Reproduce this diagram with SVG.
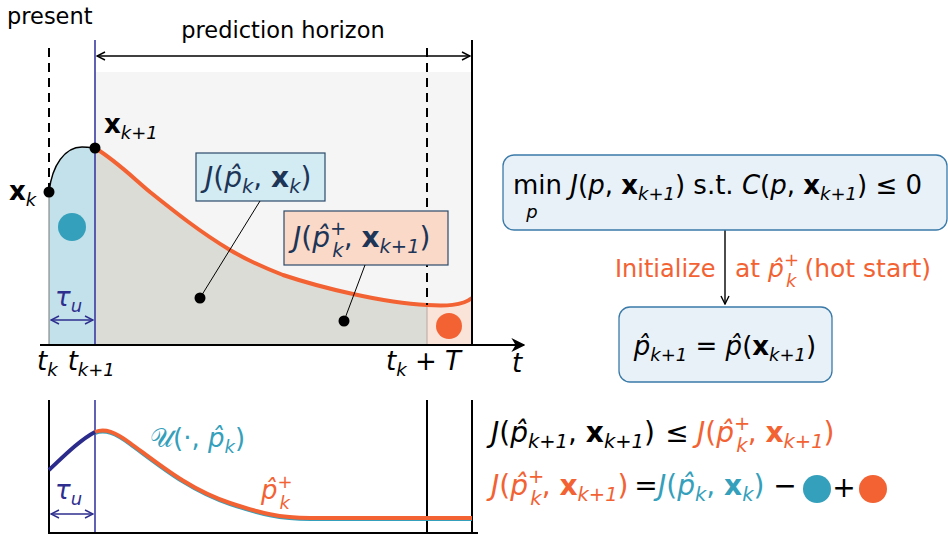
<svg xmlns="http://www.w3.org/2000/svg" width="948" height="537" viewBox="0 0 948 537">
<defs>
<style>
text{font-family:"DejaVu Sans","Liberation Sans",sans-serif;}
.t{font-size:22.5px;fill:#000}
.m{font-size:26px}
.L{font-size:28px}
.s{font-size:18px}
.S{font-size:19.5px}
.i{font-style:italic}
.b{font-weight:bold}
.nv{fill:#1d3557}
.or{fill:#f26233}
.tl{fill:#35a0bb}
.bl{fill:#2e2e8f}
.dash{stroke:#000;stroke-width:2;stroke-dasharray:9,6;fill:none}
.node rect{fill:#e9f1f8;stroke:#3a7aa8;stroke-width:1.3}
</style>
<marker id="ah" viewBox="0 0 10 10" refX="9" refY="5" markerWidth="10" markerHeight="10" markerUnits="userSpaceOnUse" orient="auto-start-reverse">
<path d="M1,1 L9,5 L1,9" fill="none" stroke="#000" stroke-width="1.4"/>
</marker>
<marker id="ahb" viewBox="0 0 10 10" refX="9" refY="5" markerWidth="10" markerHeight="10" markerUnits="userSpaceOnUse" orient="auto-start-reverse">
<path d="M1,1 L9,5 L1,9" fill="none" stroke="#2e2e8f" stroke-width="1.4"/>
</marker>
<marker id="ahs" viewBox="0 0 10 10" refX="9" refY="5" markerWidth="14" markerHeight="14" markerUnits="userSpaceOnUse" orient="auto">
<path d="M0,0 L10,5 L0,10 L3,5 Z" fill="#000"/>
</marker>
</defs>

<g id="top-plot">
<rect x="95" y="72" width="377" height="273" fill="#f5f5f5"/>
<path d="M49,345 L49,192 C52,165 65,147 82,147 C90,147 93,148 95,148 L95,345 Z" fill="#c2e1ea"/>
<path d="M49,192 L49,345" stroke="#777" stroke-width="1"/>
<path d="M95,148 C115,160 130,175 150,192 C175,212 200,232 230,250 C250,262 265,268 283,275 C310,284 330,289 353,294 C380,300 405,304 427,305 L427,345 L95,345 Z" fill="#dcdcd6"/>
<path d="M427,305 C445,306 462,306 472,298 L472,345 L427,345 Z" fill="#fae3d8" stroke="#b9a8a0" stroke-width="1"/>
<path d="M49,192 C52,165 65,147 82,147 C90,147 93,148 95,148" fill="none" stroke="#000" stroke-width="1.5"/>
<path d="M95,148 C115,160 130,175 150,192 C175,212 200,232 230,250 C250,262 265,268 283,275 C310,284 330,289 353,294 C380,300 405,304 427,305 C445,306 462,306 472,298" fill="none" stroke="#f26233" stroke-width="4"/>
<line x1="49" y1="48" x2="49" y2="192" class="dash"/>
<line x1="427" y1="48" x2="427" y2="305" class="dash"/>
<line x1="95" y1="40" x2="95" y2="345" stroke="#3a3aa0" stroke-width="1.6"/>
<line x1="472" y1="40" x2="472" y2="345" stroke="#000" stroke-width="2"/>
<line x1="97" y1="56" x2="470" y2="56" stroke="#000" stroke-width="1.4" marker-start="url(#ah)" marker-end="url(#ah)"/>
<text x="7" y="24" class="t">present</text>
<text x="283" y="38" class="t" text-anchor="middle">prediction horizon</text>
<circle cx="72" cy="227" r="14" fill="#35a0bb"/>
<circle cx="449" cy="326" r="13" fill="#f26233"/>
<line x1="51" y1="320" x2="93" y2="320" stroke="#2e2e8f" stroke-width="1.6" marker-start="url(#ahb)" marker-end="url(#ahb)"/>
<text x="55" y="306" class="m i bl">τ<tspan class="s" dy="6">u</tspan></text>
<circle cx="49" cy="192" r="5.5" fill="#000"/>
<circle cx="95" cy="148" r="5.5" fill="#000"/>
<text x="9" y="200" class="m"><tspan class="b">x</tspan><tspan class="s i" dy="6">k</tspan></text>
<text x="104" y="133" class="m"><tspan class="b">x</tspan><tspan class="s i" dy="6">k+1</tspan></text>
<line x1="40" y1="345" x2="524" y2="345" stroke="#000" stroke-width="2" marker-end="url(#ahs)"/>
<text x="512" y="372" class="m i">t</text>
<text x="37" y="370" class="m"><tspan class="i">t</tspan><tspan class="s i" dy="6">k</tspan><tspan dy="-6" dx="10" class="i">t</tspan><tspan class="s i" dy="6">k+1</tspan></text>
<text x="386" y="370" class="m"><tspan class="i">t</tspan><tspan class="s i" dy="6">k</tspan><tspan dy="-6"> + </tspan><tspan class="i">T</tspan></text>
</g>

<g id="label-J">
<rect x="196" y="153" width="129" height="48" fill="#d3ebf2" stroke="#2c4a6a" stroke-width="1.2"/>
<text x="205" y="187" class="L nv"><tspan class="i">J</tspan>(<tspan class="i">p̂</tspan><tspan class="S i" dy="6">k</tspan><tspan dy="-6">, </tspan><tspan class="b">x</tspan><tspan class="S i" dy="6">k</tspan><tspan dy="-6">)</tspan></text>
</g>
<g id="label-Jplus">
<rect x="284" y="211" width="164" height="54" fill="#fbd9c8" stroke="#2c4a6a" stroke-width="1.2"/>
<text x="293" y="247" class="L nv"><tspan class="i">J</tspan>(<tspan class="i">p̂</tspan><tspan class="S" dy="-12">+</tspan><tspan class="S i" dx="-14" dy="22">k</tspan><tspan dy="-10">, </tspan><tspan class="b">x</tspan><tspan class="S i" dy="6">k+1</tspan><tspan dy="-6">)</tspan></text>
</g>

<g id="connectors">
<line x1="260" y1="201" x2="200" y2="298" stroke="#000" stroke-width="1"/>
<circle cx="200" cy="298" r="5.5" fill="#000"/>
<line x1="365" y1="265" x2="344" y2="321" stroke="#000" stroke-width="1"/>
<circle cx="344" cy="321" r="5.5" fill="#000"/>
<line x1="725" y1="230" x2="725" y2="304" stroke="#000" stroke-width="1.4" marker-end="url(#ah)"/>
</g>

<g id="bottom-plot">
<line x1="49" y1="400" x2="49" y2="533" stroke="#000" stroke-width="2"/>
<line x1="427" y1="400" x2="427" y2="533" stroke="#000" stroke-width="2"/>
<line x1="472" y1="400" x2="472" y2="533" stroke="#000" stroke-width="2"/>
<line x1="95" y1="400" x2="95" y2="533" stroke="#3a3aa0" stroke-width="1.6"/>
<line x1="48" y1="533" x2="478" y2="533" stroke="#000" stroke-width="2"/>
<path d="M95,433.5 C105,429.5 115,433.5 130,444.5 C160,466.5 190,491.5 230,504.5 C260,514.5 280,519.5 310,519.5 L472,519.5" fill="none" stroke="#35a0bb" stroke-width="3"/>
<path d="M95,432 C105,428 115,432 130,443 C160,465 190,490 230,503 C260,513 280,518 310,518 L472,518" fill="none" stroke="#f26233" stroke-width="4"/>
<path d="M49,470 C65,455 80,440 95,432" fill="none" stroke="#2b2b8c" stroke-width="4"/>
<line x1="51" y1="514" x2="93" y2="514" stroke="#2e2e8f" stroke-width="1.6" marker-start="url(#ahb)" marker-end="url(#ahb)"/>
<text x="55" y="499" class="m i bl">τ<tspan class="s" dy="6">u</tspan></text>
<text x="150" y="447" class="m tl">𝒰(·, <tspan class="i">p̂</tspan><tspan class="s i" dy="6">k</tspan><tspan dy="-6">)</tspan></text>
<text x="261" y="499" class="m or"><tspan class="i">p̂</tspan><tspan class="s" dy="-11">+</tspan><tspan class="s i" dx="-13" dy="21">k</tspan></text>
</g>

<g id="node-min" class="node">
<rect x="503" y="155" width="444" height="75" rx="11"/>
<text x="513" y="194" class="m">min <tspan class="i">J</tspan>(<tspan class="i">p</tspan>, <tspan class="b">x</tspan><tspan class="s i" dy="6">k+1</tspan><tspan dy="-6">) s.t.  </tspan><tspan class="i">C</tspan>(<tspan class="i">p</tspan>, <tspan class="b">x</tspan><tspan class="s i" dy="6">k+1</tspan><tspan dy="-6">) ≤ 0</tspan></text>
<text x="532" y="218" class="s i" text-anchor="middle">p</text>
</g>
<text x="615" y="277" class="t or" style="font-size:24px">Initialize</text>
<text x="735" y="277" class="t or" style="font-size:25px">at <tspan class="i">p̂</tspan><tspan class="s" dy="-11">+</tspan><tspan class="s i" dx="-13" dy="21">k</tspan><tspan dy="-10"> (hot start)</tspan></text>

<g id="node-phat" class="node">
<rect x="619" y="307" width="213" height="75" rx="11"/>
<text x="725" y="355" class="m" text-anchor="middle"><tspan class="i">p̂</tspan><tspan class="s i" dy="6">k+1</tspan><tspan dy="-6"> = </tspan><tspan class="i">p̂</tspan>(<tspan class="b">x</tspan><tspan class="s i" dy="6">k+1</tspan><tspan dy="-6">)</tspan></text>
</g>

<g id="equations">
<text x="491" y="442" class="L"><tspan class="i">J</tspan>(<tspan class="i">p̂</tspan><tspan class="S i" dy="6">k+1</tspan><tspan dy="-6">, </tspan><tspan class="b">x</tspan><tspan class="S i" dy="6">k+1</tspan><tspan dy="-6">)</tspan></text>
<text x="677" y="442" class="L" text-anchor="middle">≤</text>
<text x="697" y="442" class="L or"><tspan class="i">J</tspan>(<tspan class="i">p̂</tspan><tspan class="S" dy="-12">+</tspan><tspan class="S i" dx="-14" dy="22">k</tspan><tspan dy="-10">, </tspan><tspan class="b">x</tspan><tspan class="S i" dy="6">k+1</tspan><tspan dy="-6">)</tspan></text>
<text x="491" y="495" class="L or"><tspan class="i">J</tspan>(<tspan class="i">p̂</tspan><tspan class="S" dy="-12">+</tspan><tspan class="S i" dx="-14" dy="22">k</tspan><tspan dy="-10">, </tspan><tspan class="b">x</tspan><tspan class="S i" dy="6">k+1</tspan><tspan dy="-6">)</tspan></text>
<text x="646" y="495" class="L" text-anchor="middle">=</text>
<text x="658" y="495" class="L tl"><tspan class="i">J</tspan>(<tspan class="i">p̂</tspan><tspan class="S i" dy="6">k</tspan><tspan dy="-6">, </tspan><tspan class="b">x</tspan><tspan class="S i" dy="6">k</tspan><tspan dy="-6">)</tspan></text>
<text x="785" y="495" class="L" text-anchor="middle">−</text>
<circle cx="817" cy="489" r="14" fill="#35a0bb"/>
<text x="844" y="497" class="L" text-anchor="middle">+</text>
<circle cx="873" cy="489" r="14" fill="#f26233"/>
</g>
</svg>
